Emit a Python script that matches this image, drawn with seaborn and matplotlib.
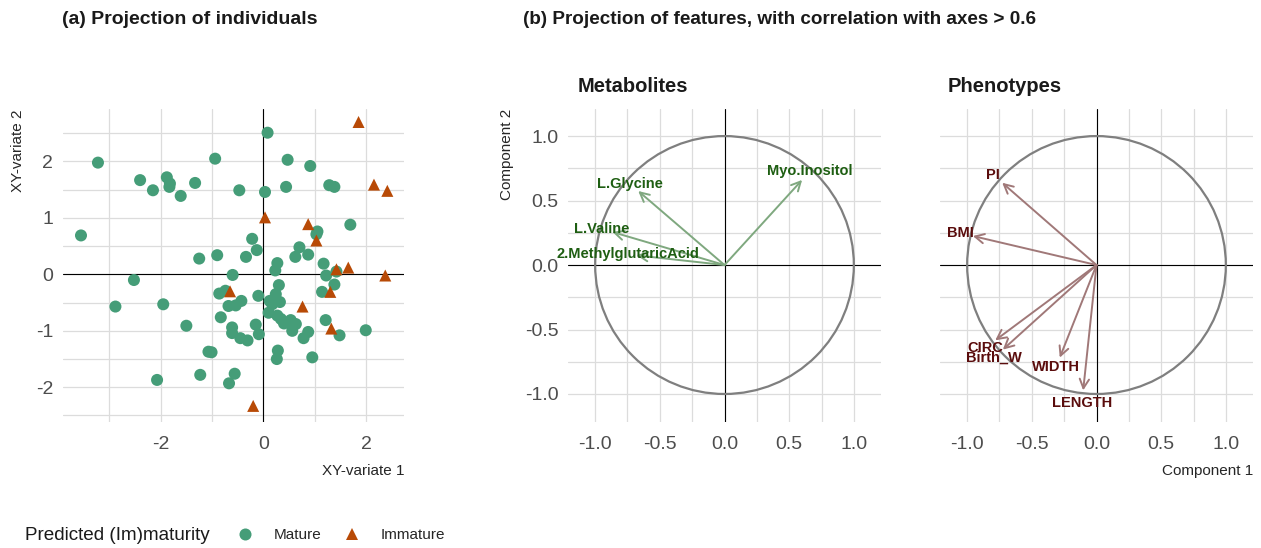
import numpy as np
import pandas as pd
import matplotlib
matplotlib.use("Agg")
import matplotlib.pyplot as plt
from matplotlib.patches import Circle
from matplotlib.ticker import MultipleLocator
import seaborn as sns
from matplotlib import font_manager

# ---------------- data ----------------
mature_x = [0.08, -3.22, -0.94, 0.47, 0.91, -2.40, -1.88, -1.82, -1.83, -2.15, -1.61, -1.33,
            -0.47, 0.03, 0.44, 1.28, 1.38, 1.69, 1.05, 1.03, -3.55, -0.22, -0.13, -0.34, 0.70,
            0.87, 0.62, -0.90, -1.25, 0.27, 0.23, 1.17, 1.22, 1.42, -0.60, -2.52, 0.30, 1.38,
            -0.86, -0.74, -0.10, 0.24, 1.14, -2.88, -1.95, -0.68, -0.54, -0.43, 0.12, 0.17,
            0.32, 0.10, 0.27, 0.34, 0.40, 0.53, 0.63, 0.56, 0.87, 0.78, 1.21, 1.48, 1.99,
            -1.50, -0.83, -0.61, -0.61, -0.45, -0.31, -0.15, -0.09, -1.07, -1.01, 0.28, 0.26,
            0.95, -1.23, -0.56, -0.67, -2.07]
mature_y = [2.51, 1.98, 2.05, 2.03, 1.92, 1.67, 1.72, 1.61, 1.55, 1.49, 1.39, 1.62,
            1.49, 1.46, 1.55, 1.58, 1.55, 0.88, 0.76, 0.71, 0.69, 0.63, 0.43, 0.31, 0.48,
            0.35, 0.31, 0.34, 0.28, 0.20, 0.07, 0.19, -0.02, 0.05, -0.01, -0.10, -0.19, -0.18,
            -0.34, -0.29, -0.38, -0.35, -0.31, -0.57, -0.53, -0.56, -0.55, -0.47, -0.47, -0.53,
            -0.49, -0.68, -0.73, -0.79, -0.87, -0.81, -0.88, -1.00, -1.02, -1.13, -0.81, -1.08, -0.99,
            -0.91, -0.76, -0.94, -1.04, -1.13, -1.17, -0.89, -1.06, -1.37, -1.38, -1.35, -1.50,
            -1.47, -1.78, -1.76, -1.93, -1.87]
immature_x = [1.85, 2.15, 2.41, 0.03, 0.87, 1.03, 1.42, 1.65, 2.37, -0.65, 1.30, 0.76, 1.32, -0.20]
immature_y = [2.70, 1.59, 1.48, 1.01, 0.89, 0.60, 0.09, 0.12, -0.02, -0.30, -0.31, -0.57, -0.96, -2.33]

metab_names = ["Myo.Inositol", "L.Glycine", "L.Valine", "2.MethylglutaricAcid"]
metab_c1 = [0.60, -0.667, -0.866, -0.68]
metab_c2 = [0.66, 0.574, 0.256, 0.075]

pheno_names = ["PI", "BMI", "CIRC", "Birth_W", "WIDTH", "LENGTH"]
pheno_c1 = [-0.729, -0.956, -0.783, -0.724, -0.284, -0.103]
pheno_c2 = [0.638, 0.225, -0.584, -0.656, -0.718, -0.972]

group_labels = ["Mature", "Immature"]

# ---------------- style ----------------
sns.set_theme(style="white")
avail = {f.name for f in font_manager.fontManager.ttflist}
fam = [f for f in ["Liberation Sans Narrow", "Liberation Sans", "DejaVu Sans"] if f in avail]
plt.rcParams["font.family"] = fam

GRID = "#DCDCDC"
TICK = "#4D4D4D"
GREEN = "#459D78"
ORANGE = "#B84A06"

fig = plt.figure(figsize=(12.61, 5.48), dpi=100)
W, H = 1261, 548

def ax_at(x0, y0, x1, y1):
    return fig.add_axes([x0 / W, 1 - y1 / H, (x1 - x0) / W, (y1 - y0) / H])

def style_ax(ax, major, minor):
    ax.xaxis.set_major_locator(MultipleLocator(major[0]))
    ax.yaxis.set_major_locator(MultipleLocator(major[1]))
    ax.xaxis.set_minor_locator(MultipleLocator(minor[0]))
    ax.yaxis.set_minor_locator(MultipleLocator(minor[1]))
    ax.grid(True, which="both", color=GRID, linewidth=0.9)
    ax.set_axisbelow(True)
    for s in ax.spines.values():
        s.set_visible(False)
    ax.tick_params(which="both", length=0, labelsize=14, colors=TICK)
    ax.tick_params(axis="x", pad=10)
    ax.tick_params(axis="y", pad=7)
    ax.axhline(0, color="black", linewidth=0.8, zorder=1.5)
    ax.axvline(0, color="black", linewidth=0.8, zorder=1.5)

# ---------------- (a) individuals ----------------
ind = pd.DataFrame({
    "x": mature_x + immature_x,
    "y": mature_y + immature_y,
    "Predicted (Im)maturity": [group_labels[0]] * len(mature_x) + [group_labels[1]] * len(immature_x),
})
ax1 = ax_at(63, 109, 404.3, 421.7)
sns.scatterplot(data=ind, x="x", y="y", hue="Predicted (Im)maturity",
                style="Predicted (Im)maturity", hue_order=group_labels, style_order=group_labels,
                palette=[GREEN, ORANGE], markers=["o", "^"], s=75, linewidth=0,
                ax=ax1, zorder=3)
ax1.set_xlim(-3.90, 2.74)
ax1.set_ylim(-2.61, 2.93)
style_ax(ax1, (2, 1), (1, 0.5))
ax1.set_xticks([-2, 0, 2])
ax1.set_xticklabels(["-2", "0", "2"])
ax1.set_yticks([-2, -1, 0, 1, 2])
ax1.set_yticklabels(["-2", "-1", "0", "1", "2"])
ax1.set_xlabel("XY-variate 1", fontsize=11, loc="right", labelpad=8)
ax1.set_ylabel("XY-variate 2", fontsize=11, loc="top", labelpad=8)

leg = ax1.get_legend()
handles = leg.legend_handles
labels = [t.get_text() for t in leg.get_texts()]
leg.remove()

# ---------------- (b) correlation circles ----------------
def corr_panel(ax, names, c1, c2, arrow_col, text_col):
    ax.add_patch(Circle((0, 0), 1.0, fill=False, edgecolor="#7F7F7F", linewidth=1.6, zorder=2))
    for n, a, b in zip(names, c1, c2):
        ax.annotate("", xy=(a, b), xytext=(0, 0),
                    arrowprops=dict(arrowstyle="->,head_length=0.55,head_width=0.28",
                                    color=arrow_col, lw=1.4, shrinkA=0, shrinkB=0),
                    zorder=3)
        ax.text(a * 1.1, b * 1.1, n, color=text_col, fontsize=10.5, fontweight="bold",
                ha="center", va="center", zorder=4)
    ax.set_xlim(-1.21, 1.21)
    ax.set_ylim(-1.215, 1.21)
    style_ax(ax, (0.5, 0.5), (0.25, 0.25))
    ticks = [-1.0, -0.5, 0.0, 0.5, 1.0]
    ax.set_xticks(ticks)
    ax.set_yticks(ticks)
    ax.set_xticklabels([f"{t:.1f}" for t in ticks])
    ax.set_yticklabels([f"{t:.1f}" for t in ticks])

ax2 = ax_at(568, 109, 881, 421.7)
corr_panel(ax2, metab_names, metab_c1, metab_c2, "#7FA87F", "#1E5E12")
ax2.set_ylabel("Component 2", fontsize=11, loc="top", labelpad=8)
ax2.set_xlabel("")

ax3 = ax_at(940, 109, 1253, 421.7)
corr_panel(ax3, pheno_names, pheno_c1, pheno_c2, "#A07878", "#5A0C0C")
ax3.set_yticklabels([])
ax3.set_xlabel("Component 1", fontsize=11, loc="right", labelpad=8)
ax3.set_ylabel("")

# ---------------- titles ----------------
fig.text(61.7 / W, 1 - 20 / H, "(a) Projection of individuals", fontsize=14,
         fontweight="bold", ha="left", va="center", color="#1A1A1A")
fig.text(523 / W, 1 - 20 / H, "(b) Projection of features, with correlation with axes > 0.6",
         fontsize=13.6, fontweight="bold", ha="left", va="center", color="#1A1A1A")
fig.text(578 / W, 1 - 87 / H, "Metabolites", fontsize=14.5, fontweight="bold",
         ha="left", va="center", color="#1A1A1A")
fig.text(948 / W, 1 - 87 / H, "Phenotypes", fontsize=14.5, fontweight="bold",
         ha="left", va="center", color="#1A1A1A")

# ---------------- legend ----------------
fig.text(25 / W, 1 - 535 / H, "Predicted (Im)maturity", fontsize=13.6, ha="left",
         va="center", color="#1A1A1A")
fig.legend(handles, labels, ncol=2, loc="center left", bbox_to_anchor=(237.4 / W, 1 - 535 / H),
           frameon=False, fontsize=11, handlelength=1.0, handletextpad=1.4,
           columnspacing=1.45, borderpad=0, borderaxespad=0, markerscale=1.0)

fig.savefig("out.png", dpi=100)
